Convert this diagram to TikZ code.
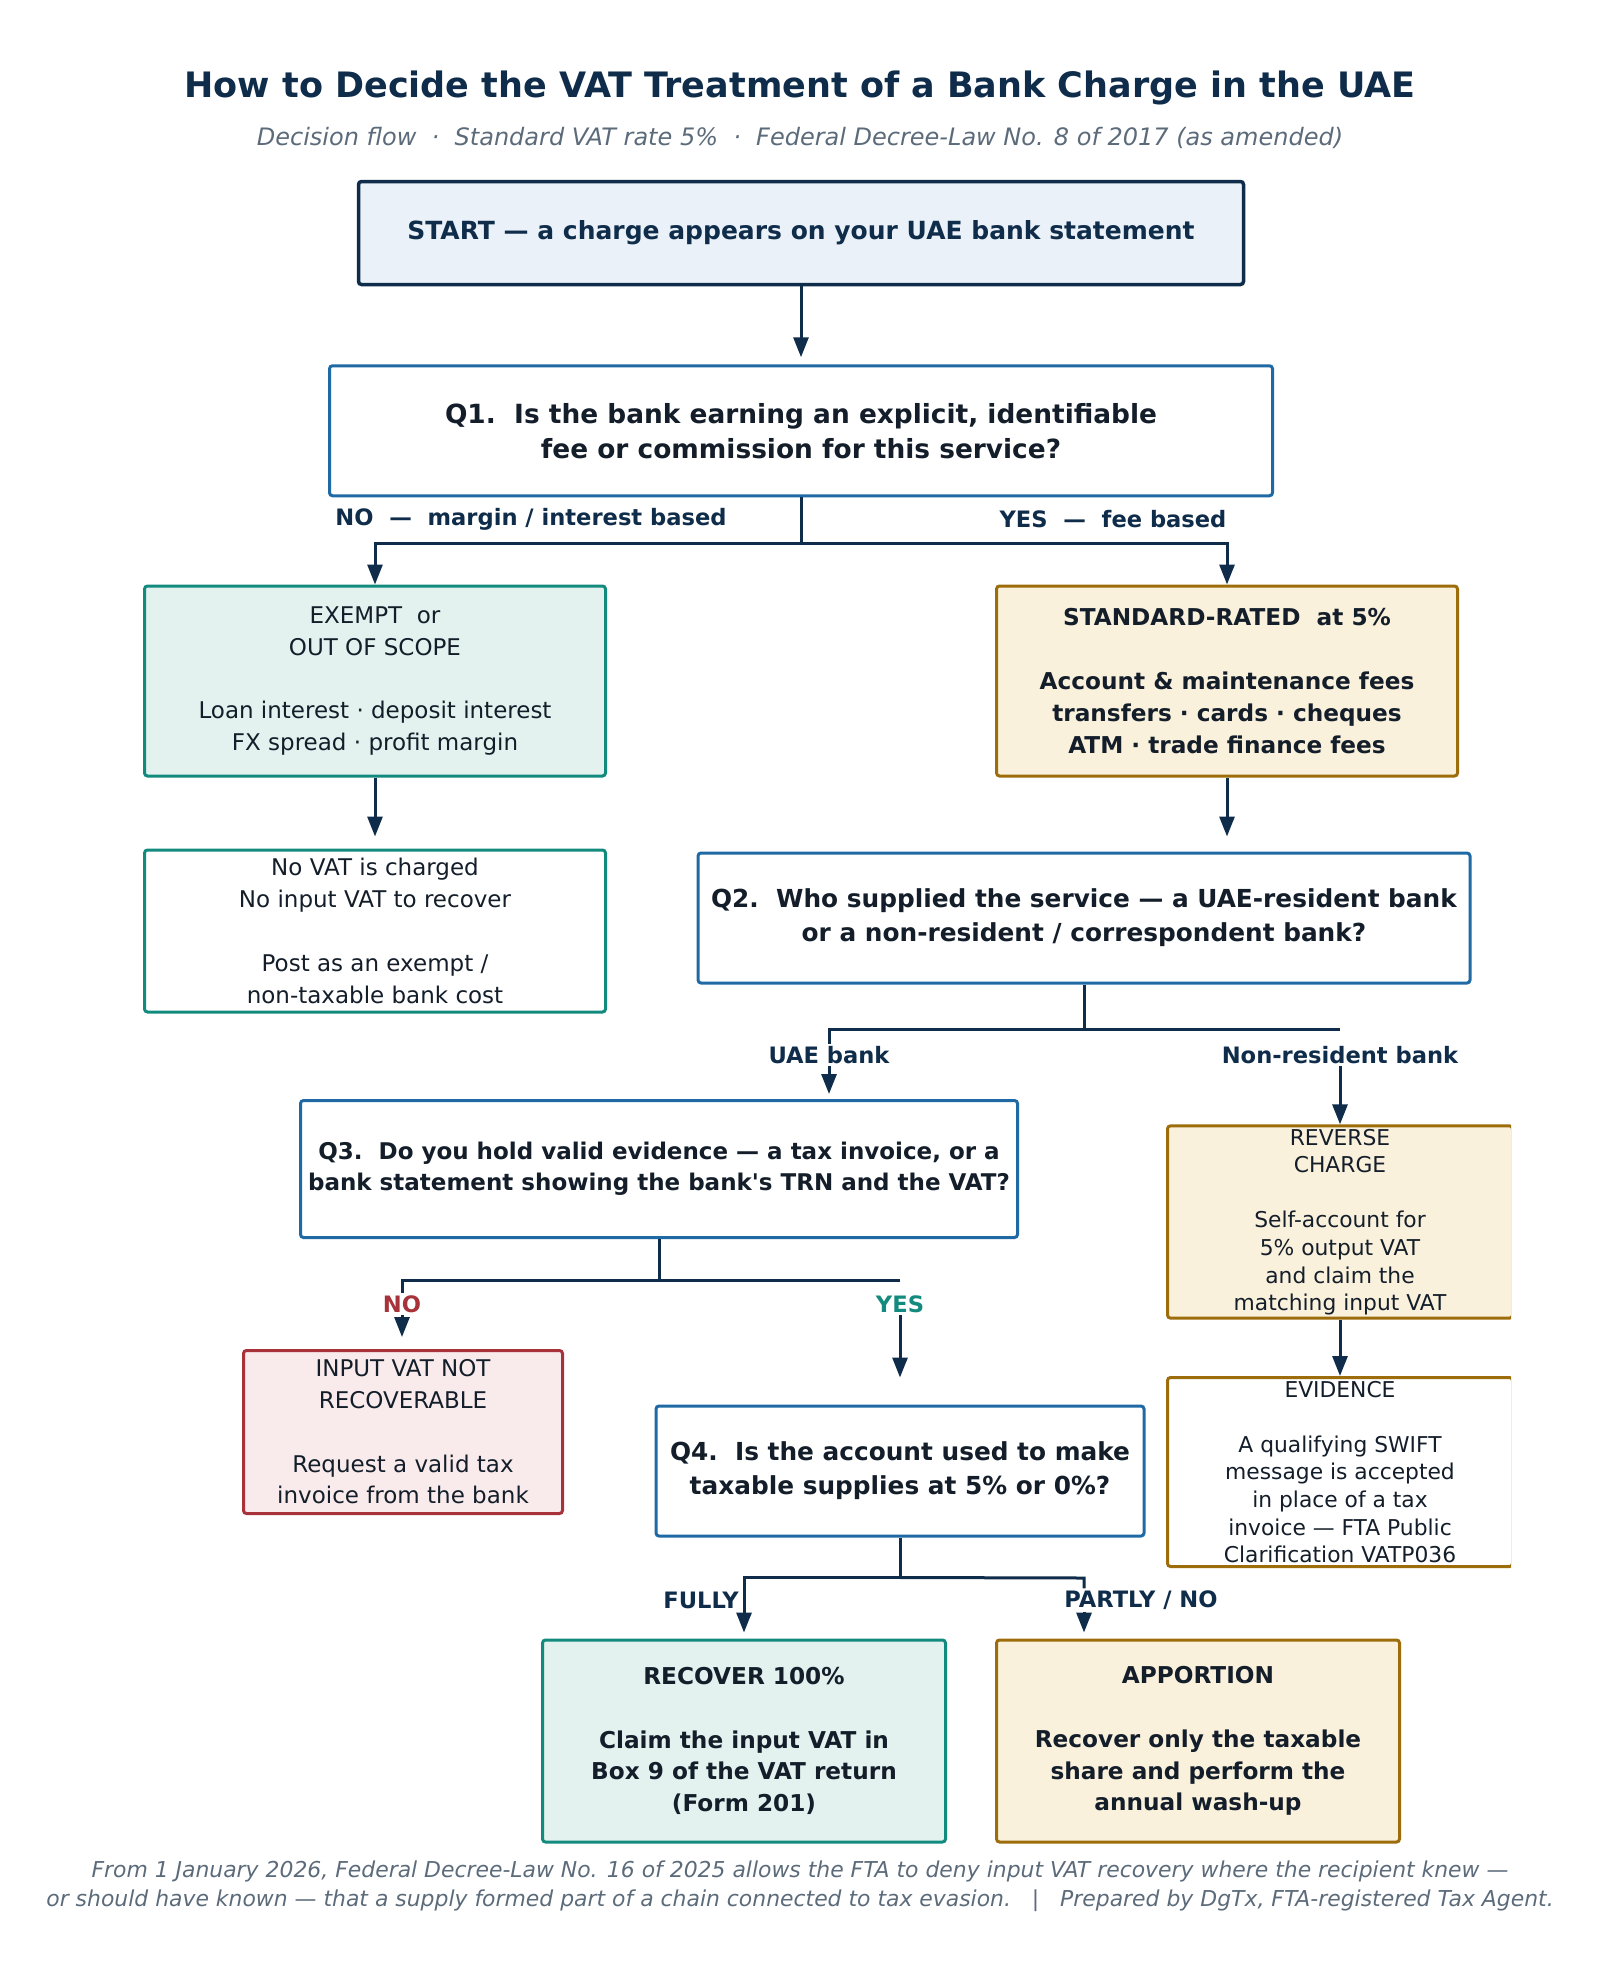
\documentclass[tikz,border=0pt]{standalone}
\usepackage{fontspec}
\setmainfont{DejaVu Sans}
\usetikzlibrary{arrows.meta,positioning}
\definecolor{navy}{HTML}{0F2D4A}
\definecolor{ink}{HTML}{141E2A}
\definecolor{slate}{HTML}{5C6B7A}
\definecolor{qblue}{HTML}{1F6AA5}
\definecolor{startbg}{HTML}{EAF1F8}
\definecolor{tealline}{HTML}{138A7E}
\definecolor{tealbg}{HTML}{E3F2EE}
\definecolor{gold}{HTML}{9E6D0B}
\definecolor{goldbg}{HTML}{FAF1DC}
\definecolor{wine}{HTML}{A8323A}
\definecolor{winebg}{HTML}{F9EBEB}

\begin{document}
\begin{tikzpicture}
[x=1pt, y=-1pt, node distance=2cm, font=\fontsize{23}{31.8}\selectfont,
% STYLES
% The box style is shared by every step of the flow
box/.style={rectangle, rounded corners=3pt, line width=3pt, align=center, inner sep=3pt, text=ink},
% The question style is used for the four questions Q1-Q4
question/.style={box, draw=qblue, fill=white, font=\bfseries\fontsize{24.8}{34}\selectfont},
% The outcome styles colour a box by its VAT result
exempt/.style={box, draw=tealline, fill=tealbg},
rated/.style={box, draw=gold, fill=goldbg},
blocked/.style={box, draw=wine, fill=winebg},
% The heavy style is used for the bold outcome boxes
heavy/.style={font=\bfseries\fontsize{23.2}{31.8}\selectfont},
% The branch style is used to write the answer on a branch
branch/.style={font=\bfseries\fontsize{22.6}{26}\selectfont, text=navy, inner sep=2pt},
% The note style is used for the tighter text of the non-resident column
note/.style={font=\fontsize{21.8}{27.6}\selectfont},
link/.style={line width=3pt, draw=navy},
arrow/.style={link, -{Triangle[length=20pt, width=15pt]}}]

\useasboundingbox (0,0) rectangle (1608,1978);

% Title
\node [text=navy, font=\bfseries\fontsize{35}{40}\selectfont] (title) at (800,88) {How to Decide the VAT Treatment of a Bank Charge in the UAE};
\node [text=slate, font=\itshape\fontsize{24}{28}\selectfont] (subtitle) at (800,138) {Decision flow~~·~~Standard VAT rate 5\%~~·~~Federal Decree-Law No. 8 of 2017 (as amended)};

% Draw steps
\node [box, draw=navy, fill=startbg, line width=3.5pt, minimum width=885pt, minimum height=103pt, text=navy, font=\bfseries\fontsize{25}{30}\selectfont] (start) at (801,233) {START — a charge appears on your UAE bank statement};
\node [question, minimum width=943pt, minimum height=130pt, font=\bfseries\fontsize{26.4}{35}\selectfont, below=78pt of start] (q1) {Q1.~~Is the bank earning an explicit, identifiable\\fee or commission for this service?};

\node [exempt, minimum width=461pt, minimum height=190pt] (exempt) at (375,681) {EXEMPT~~or\\OUT OF SCOPE\\[31.8pt]Loan interest · deposit interest\\FX spread · profit margin};
\node [rated, heavy, minimum width=461pt, minimum height=190pt] (standard) at (1227,681) {STANDARD-RATED~~at 5\%\\[31.8pt]Account \& maintenance fees\\transfers · cards · cheques\\ATM · trade finance fees};

\node [exempt, fill=white, minimum width=461pt, minimum height=162pt, below=71pt of exempt] (novat) {No VAT is charged\\No input VAT to recover\\[31.8pt]Post as an exempt /\\non-taxable bank cost};
\node [question, minimum width=772pt, minimum height=130pt] (q2) at (1084,918) {Q2.~~Who supplied the service — a UAE-resident bank\\or a non-resident / correspondent bank?};

\node [question, minimum width=717pt, minimum height=137pt, font=\bfseries\fontsize{23}{31.4}\selectfont] (q3) at (659,1169) {Q3.~~Do you hold valid evidence — a tax invoice, or a\\bank statement showing the bank\textquotesingle s TRN and the VAT?};

% The non-resident column runs off the right edge
\begin{scope}
\clip (0,0) rectangle (1511,1978);
\node [rated, note, minimum width=345pt, minimum height=189pt] (reverse) at (1340,1222) {REVERSE\\CHARGE\\[27.6pt]Self-account for\\5\% output VAT\\and claim the\\matching input VAT};
\node [rated, note, fill=white, minimum width=345pt, minimum height=189pt] (evidence) at (1340,1472) {EVIDENCE\\[27.6pt]A qualifying SWIFT\\message is accepted\\in place of a tax\\invoice — FTA Public\\Clarification VATP036};
\end{scope}

\node [blocked, minimum width=319pt, minimum height=163pt] (noinput) at (403,1432) {INPUT VAT NOT\\RECOVERABLE\\[31.8pt]Request a valid tax\\invoice from the bank};
\node [question, minimum width=488pt, minimum height=130pt] (q4) at (900,1471) {Q4.~~Is the account used to make\\taxable supplies at 5\% or 0\%?};

\node [exempt, heavy, minimum width=403pt, minimum height=202pt] (recover) at (744,1741) {RECOVER 100\%\\[31.8pt]Claim the input VAT in\\Box 9 of the VAT return\\(Form 201)};
\node [rated, heavy, minimum width=403pt, minimum height=202pt, right=48pt of recover] (apportion) {APPORTION\\[31.8pt]Recover only the taxable\\share and perform the\\annual wash-up};

% Footer
\node [text=slate, align=center, font=\itshape\fontsize{21.9}{29}\selectfont] (footer) at (800,1886) {From 1 January 2026, Federal Decree-Law No. 16 of 2025 allows the FTA to deny input VAT recovery where the recipient knew —\\or should have known — that a supply formed part of a chain connected to tax evasion.~~~|~~~Prepared by DgTx, FTA-registered Tax Agent.};

% Branch labels
\node [branch] (q1-no) at (531,519) {NO~~—~~margin / interest based};
\node [branch] (q1-yes) at (1113,519) {YES~~—~~fee based};
\node [branch] (q2-uae) at (829,1055) {UAE bank};
\node [branch] (q2-nonres) at (1340,1055) {Non-resident bank};
\node [branch, text=wine] (q3-no) at (402,1304) {NO};
\node [branch, text=tealline] (q3-yes) at (900,1304) {YES};
\node [branch, anchor=east] (q4-fully) at (741,1600) {FULLY};
\node [branch] (q4-partly) at (1141,1600) {PARTLY / NO};

% Draw the links between steps
\draw [arrow, shorten >=7pt] (start) -- (q1);

\coordinate [below=46pt of q1.south] (q1-split);
\draw [link] (q1.south) -- (q1-split);
\draw [arrow] (q1-split) -| (exempt.north);
\draw [arrow] (q1-split) -| (standard.north);

\draw [arrow, shorten >=12pt] (exempt) -- (novat);
\draw [arrow, shorten >=15pt] (standard.south) -- (standard.south |- q2.north);

\coordinate [below=45pt of q2.south] (q2-split);
\draw [link] (q2.south) -- (q2-split) -| (q2-uae.north);
\draw [link] (q2-split) -- (q2-split -| q2-nonres);
\draw [arrow, shorten >=5pt] (q2-uae) -- (q2-uae |- q3.north);
\draw [arrow] (q2-nonres) -- (reverse);
\draw [arrow] (reverse) -- (evidence);

\coordinate [below=41pt of q3.south] (q3-split);
\draw [link] (q3.south) -- (q3-split) -| (q3-no.north);
\draw [link] (q3-split) -- (q3-split -| q3-yes);
\draw [arrow, shorten >=12pt] (q3-no) -- (q3-no |- noinput.north);
\draw [arrow, shorten >=27pt] (q3-yes) -- (q4);

\coordinate [below=40pt of q4.south] (q4-split);
\coordinate (q4-right) at (1084,1578);
\draw [link] (q4.south) -- (q4-split);
\draw [arrow, shorten >=6pt] (q4-split) -| (recover.north);
\draw [link] (q4-split) -- (q4-right) -- (q4-right |- q4-partly.north);
\draw [arrow, shorten >=6pt] (q4-right |- q4-partly.south) -- (q4-right |- apportion.north);

\end{tikzpicture}
\end{document}
